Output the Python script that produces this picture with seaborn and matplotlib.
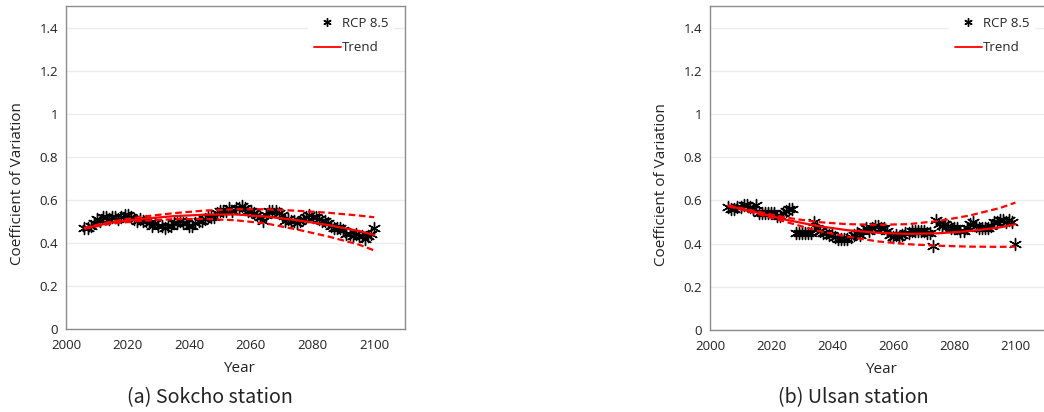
import numpy as np
import pandas as pd
import matplotlib
matplotlib.use("Agg")
import matplotlib.pyplot as plt
from matplotlib.lines import Line2D
import seaborn as sns

# ================= data =================
YEARS = list(range(2006, 2101))

SOKCHO_CV = [
    0.47, 0.47, 0.48, 0.49, 0.51, 0.50, 0.52, 0.52, 0.51, 0.52,   # 2006-2015
    0.52, 0.51, 0.52, 0.53, 0.53, 0.52, 0.51, 0.50, 0.51, 0.50,   # 2016-2025
    0.50, 0.49, 0.48, 0.49, 0.48, 0.48, 0.47, 0.48, 0.48, 0.49,   # 2026-2035
    0.49, 0.50, 0.49, 0.49, 0.48, 0.48, 0.49, 0.50, 0.50, 0.51,   # 2036-2045
    0.52, 0.52, 0.52, 0.54, 0.55, 0.55, 0.55, 0.56, 0.55, 0.56,   # 2046-2055
    0.56, 0.57, 0.56, 0.55, 0.55, 0.54, 0.53, 0.52, 0.50, 0.53,   # 2056-2065
    0.55, 0.55, 0.55, 0.54, 0.53, 0.50, 0.51, 0.50, 0.50, 0.49,   # 2066-2075
    0.50, 0.51, 0.52, 0.53, 0.52, 0.52, 0.51, 0.50, 0.50, 0.49,   # 2076-2085
    0.48, 0.47, 0.47, 0.47, 0.46, 0.44, 0.44, 0.43, 0.44, 0.43,   # 2086-2095
    0.43, 0.42, 0.43, 0.44, 0.47,                                 # 2096-2100
]

ULSAN_CV = [
    0.57, 0.56, 0.56, 0.57, 0.57, 0.58, 0.58, 0.57, 0.56, 0.58,   # 2006-2015
    0.54, 0.54, 0.54, 0.54, 0.54, 0.54, 0.53, 0.53, 0.54, 0.55,   # 2016-2025
    0.56, 0.56, 0.45, 0.45, 0.45, 0.45, 0.45, 0.45, 0.50, 0.47,   # 2026-2035
    0.46, 0.45, 0.45, 0.44, 0.44, 0.43, 0.42, 0.42, 0.42, 0.42,   # 2036-2045
    0.43, 0.44, 0.45, 0.44, 0.46, 0.47, 0.46, 0.47, 0.48, 0.48,   # 2046-2055
    0.47, 0.47, 0.46, 0.44, 0.43, 0.44, 0.43, 0.44, 0.45, 0.45,   # 2056-2065
    0.46, 0.46, 0.46, 0.46, 0.46, 0.45, 0.45, 0.39, 0.51, 0.49,   # 2066-2075
    0.48, 0.49, 0.48, 0.47, 0.47, 0.47, 0.46, 0.46, 0.47, 0.49,   # 2076-2085
    0.50, 0.48, 0.47, 0.47, 0.47, 0.47, 0.48, 0.50, 0.50, 0.51,   # 2086-2095
    0.51, 0.50, 0.51, 0.50, 0.40,                                 # 2096-2100
]

# trend line and its dashed bounds
TREND_YEARS = [2006, 2015, 2025, 2035, 2045, 2055, 2065, 2075, 2085, 2095, 2100]

SOKCHO_TREND = [0.468, 0.495, 0.512, 0.524, 0.531, 0.532, 0.522, 0.505, 0.483, 0.455, 0.437]
SOKCHO_UPPER = [0.470, 0.500, 0.522, 0.538, 0.550, 0.556, 0.556, 0.549, 0.540, 0.527, 0.519]
SOKCHO_LOWER = [0.466, 0.490, 0.503, 0.510, 0.511, 0.505, 0.490, 0.462, 0.430, 0.392, 0.365]

ULSAN_TREND = [0.575, 0.545, 0.510, 0.482, 0.462, 0.450, 0.445, 0.448, 0.458, 0.475, 0.490]
ULSAN_UPPER = [0.577, 0.550, 0.520, 0.500, 0.490, 0.487, 0.490, 0.505, 0.530, 0.565, 0.590]
ULSAN_LOWER = [0.573, 0.540, 0.500, 0.460, 0.432, 0.410, 0.397, 0.390, 0.386, 0.385, 0.386]

CAPTIONS = ["(a) Sokcho station", "(b) Ulsan station"]
Y_TICKS = [0, 0.2, 0.4, 0.6, 0.8, 1, 1.2, 1.4]
Y_TICK_LABELS = ["0", "0.2", "0.4", "0.6", "0.8", "1", "1.2", "1.4"]
X_TICKS = [2000, 2020, 2040, 2060, 2080, 2100]

# ================= style =================
sns.set_theme(style="white")
plt.rcParams['font.family'] = ['Open Sans', 'DejaVu Sans']

SPINE_GRAY = "#8c8c8c"
GRID_GRAY = "#ececec"
TEXT = "#222222"
RED = "#ff0000"
STAR = (6, 2, 0)

fig = plt.figure(figsize=(10.44, 4.12), dpi=100)
ax_a = fig.add_axes([66 / 1044, 1 - 329 / 412, 339 / 1044, 323 / 412])
ax_b = fig.add_axes([710 / 1044, 1 - 330 / 412, 336 / 1044, 324 / 412])

panels = [
    (ax_a, SOKCHO_CV, SOKCHO_TREND, SOKCHO_UPPER, SOKCHO_LOWER),
    (ax_b, ULSAN_CV, ULSAN_TREND, ULSAN_UPPER, ULSAN_LOWER),
]

for ax, cv, trend, upper, lower in panels:
    df = pd.DataFrame({"Year": YEARS, "CV": cv})
    tr = pd.DataFrame({"Year": TREND_YEARS, "trend": trend, "upper": upper, "lower": lower})

    sns.scatterplot(data=df, x="Year", y="CV", ax=ax, marker=STAR, s=75,
                    color="black", linewidth=1.0, zorder=3, legend=False)
    sns.lineplot(data=tr, x="Year", y="trend", ax=ax, color=RED, lw=1.6, zorder=4)
    for col in ["upper", "lower"]:
        sns.lineplot(data=tr, x="Year", y=col, ax=ax, color=RED, lw=1.6,
                     dashes=(3, 1.6), zorder=4)

    ax.set_xlim(2000, 2110)
    ax.set_ylim(0, 1.5)
    ax.set_yticks(Y_TICKS)
    ax.set_yticklabels(Y_TICK_LABELS)
    ax.set_xticks(X_TICKS)
    ax.yaxis.grid(True, color=GRID_GRAY, lw=1.0)
    ax.set_axisbelow(True)
    for sp in ax.spines.values():
        sp.set_color(SPINE_GRAY)
        sp.set_linewidth(1.0)
    ax.tick_params(axis="both", labelsize=9.5, labelcolor=TEXT, color=SPINE_GRAY,
                   length=3.5, width=1.0, direction="out", pad=2)
    ax.tick_params(axis="x", pad=4)

    ax.set_xlabel("Year", fontsize=11, color=TEXT)
    ax.set_ylabel("Coefficient of Variation", fontsize=11, color=TEXT)
    ax.xaxis.set_label_coords(0.51, -0.10)
    ax.yaxis.set_label_coords(-0.122, 0.45)

    handles = [
        Line2D([], [], marker=STAR, color="black", linestyle="", markersize=6, mew=1.0),
        Line2D([], [], color=RED, lw=1.3),
    ]
    leg = ax.legend(handles, ["RCP 8.5", "Trend"], loc="upper right",
                    bbox_to_anchor=(0.988, 1.005), fontsize=9.5, frameon=True,
                    handlelength=2.0, handletextpad=0.1, labelspacing=0.85,
                    borderpad=0.45)
    leg.get_frame().set_facecolor("white")
    leg.get_frame().set_edgecolor("none")
    leg.get_frame().set_alpha(1.0)

fig.text(210 / 1044, 1 - 398 / 412, CAPTIONS[0], ha="center", va="center",
         fontsize=14.2, color=TEXT, family=["Noto Sans CJK KR", "DejaVu Sans"])
fig.text(853 / 1044, 1 - 398 / 412, CAPTIONS[1], ha="center", va="center",
         fontsize=14.2, color=TEXT, family=["Noto Sans CJK KR", "DejaVu Sans"])

fig.savefig("out.png", dpi=100)
